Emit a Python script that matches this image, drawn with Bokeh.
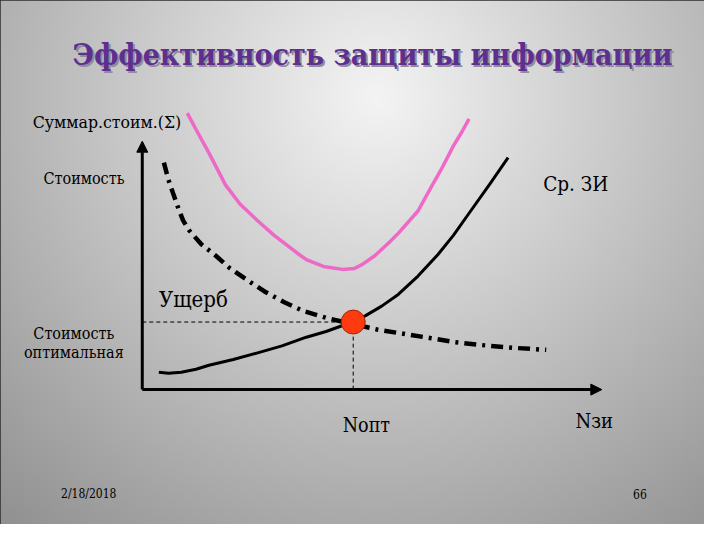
import numpy as np
from bokeh.plotting import figure
from bokeh.models import Range1d, Arrow, NormalHead
from bokeh.core.properties import value
from bokeh.embed import file_html
from bokeh.resources import INLINE

# ---------------- data ----------------
# total cost curve (Суммар. стоим.)
sum_x = [0.98, 1.17, 1.45, 1.81, 2.13, 2.51, 2.87, 3.36, 3.57, 3.94, 4.36, 4.62,
         4.79, 5.06, 5.36, 5.57, 6.00, 6.28, 6.53, 6.77, 6.96, 7.11]
sum_y = [11.13, 10.47, 9.53, 8.24, 7.46, 6.80, 6.21, 5.51, 5.23, 4.96, 4.84, 4.88,
         5.04, 5.39, 5.90, 6.29, 7.19, 8.13, 8.95, 9.81, 10.39, 10.90]
# cost of protection means (Ср. ЗИ)
zi_x = [0.36, 0.57, 0.85, 1.17, 1.45, 1.98, 2.51, 3.04, 3.57, 4.00, 4.30, 4.57,
        4.85, 5.21, 5.57, 6.00, 6.43, 6.77, 7.13, 7.55, 7.96]
zi_y = [0.70, 0.66, 0.70, 0.82, 0.98, 1.21, 1.48, 1.76, 2.11, 2.34, 2.54, 2.73,
        2.97, 3.36, 3.83, 4.57, 5.43, 6.21, 7.15, 8.24, 9.34]
# damage curve (Ущерб)
dmg_x = [0.47, 0.57, 0.68, 0.79, 0.89, 1.02, 1.28, 1.60, 1.91, 2.34, 2.66, 3.09,
         3.51, 4.00, 4.36, 5.11, 5.74, 6.28, 6.81, 7.34, 8.09, 8.79]
dmg_y = [9.14, 8.44, 7.85, 7.27, 6.80, 6.41, 5.86, 5.39, 4.88, 4.34, 3.95, 3.52,
         3.16, 2.89, 2.73, 2.42, 2.23, 2.07, 1.91, 1.80, 1.68, 1.60]
# optimum point
opt_x = 4.59
opt_y = 2.72
# axis extents
axis_x_max = 10.0
axis_y_max = 10.0

title_text = "Эффективность защиты информации"
label_sum = "Суммар.стоим.(\u03a3)"
label_cost = "Стоимость"
label_zi = "Ср. ЗИ"
label_dmg = "Ущерб"
label_opt_cost = ["Стоимость", "оптимальная"]
label_nopt = "Nопт"
label_nzi = "Nзи"
footer_date = "2/18/2018"
footer_page = "66"

# ---------------- figure ----------------
# slide coordinate frame: whole 720x540 slide mapped into the 704x524 figure
X0, X1 = -3.085, 12.234
Y0, Y1 = -5.430, 15.664
SERIF = value("'DejaVu Serif Condensed', 'DejaVu Serif', serif")

p = figure(width=704, height=524, x_range=Range1d(X0, X1), y_range=Range1d(Y0, Y1),
           output_backend="svg", toolbar_location=None,
           x_axis_location=None, y_axis_location=None,
           min_border=0, outline_line_color="#2b2b2b", outline_line_width=3)
p.grid.grid_line_color = None
p.background_fill_color = "#c8c8c8"
p.border_fill_color = "#c8c8c8"

# slide background: radial grey gradient
W, H = 360, 270
gx = (np.arange(W) + 0.5) * 720 / W
gy = 540 - (np.arange(H) + 0.5) * 540 / H
GX, GY = np.meshgrid(gx, gy)
dist = np.hypot(GX - 385, GY - 100)
b = np.clip(244 - 0.17 * dist, 135, 245).astype(np.uint32)
img = (np.uint32(255) << 24) | (b << 16) | (b << 8) | b
p.image_rgba(image=[img.astype(np.uint32)], x=X0, y=Y0, dw=X1 - X0, dh=Y1 - Y0)

# axes with arrows
p.add_layout(Arrow(end=NormalHead(size=11, fill_color="black", line_color="black", line_width=1),
                   x_start=0, y_start=0, x_end=0, y_end=axis_y_max,
                   line_color="black", line_width=3))
p.add_layout(Arrow(end=NormalHead(size=11, fill_color="black", line_color="black", line_width=1),
                   x_start=0, y_start=0, x_end=axis_x_max, y_end=0,
                   line_color="black", line_width=3))

# guide lines to the optimum
p.line([0, opt_x], [opt_y, opt_y], line_color="black", line_width=1, line_dash="4 3")
p.line([opt_x, opt_x], [0, opt_y], line_color="black", line_width=1, line_dash="4 3")

# curves
p.line(sum_x, sum_y, line_color="#ee62c6", line_width=3.5, line_alpha=0.95, line_join="round")
p.line(dmg_x, dmg_y, line_color="black", line_width=4.5, line_dash="12 6 3 6")
p.line(zi_x, zi_y, line_color="black", line_width=3, line_join="round")

# optimum marker
p.scatter([opt_x], [opt_y], size=24, fill_color="#ff3a10", line_color="#a02800", line_width=1)

# title with shadow
p.text(x=[5.01], y=[13.48], text=[title_text], text_font=SERIF,
       text_font_style="bold", text_font_size="30px", text_align="center",
       text_baseline="alphabetic", text_color="#8e8e9a", x_offset=2, y_offset=2)
p.text(x=[5.01], y=[13.48], text=[title_text], text_font=SERIF,
       text_font_style="bold", text_font_size="30px", text_align="center",
       text_baseline="alphabetic", text_color="#5e2f91")

def label(x, y, t, size, align="left", color="black"):
    p.text(x=[x], y=[y], text=[t], text_font=SERIF, text_font_size=size,
           text_align=align, text_baseline="alphabetic", text_color=color)

label(-2.383, 10.78, label_sum, "17.5px")
label(-2.149, 8.516, label_cost, "16px")
label(8.723, 8.281, label_zi, "20.5px")
label(0.362, 3.633, label_dmg, "22px")
label(-1.489, 2.266, label_opt_cost[0], "16px", align="center")
label(-1.489, 1.484, label_opt_cost[1], "16px", align="center")
label(4.362, -1.445, label_nopt, "19.5px")
label(9.426, -1.250, label_nzi, "20px")
label(-1.766, -4.219, footer_date, "12px")
label(10.68, -4.219, footer_page, "12px")

html = file_html(p, INLINE)
html = html.replace("<body>", '<body style="background-color:#8c8c8c;">', 1)
open("out.html", "w").write(html)
